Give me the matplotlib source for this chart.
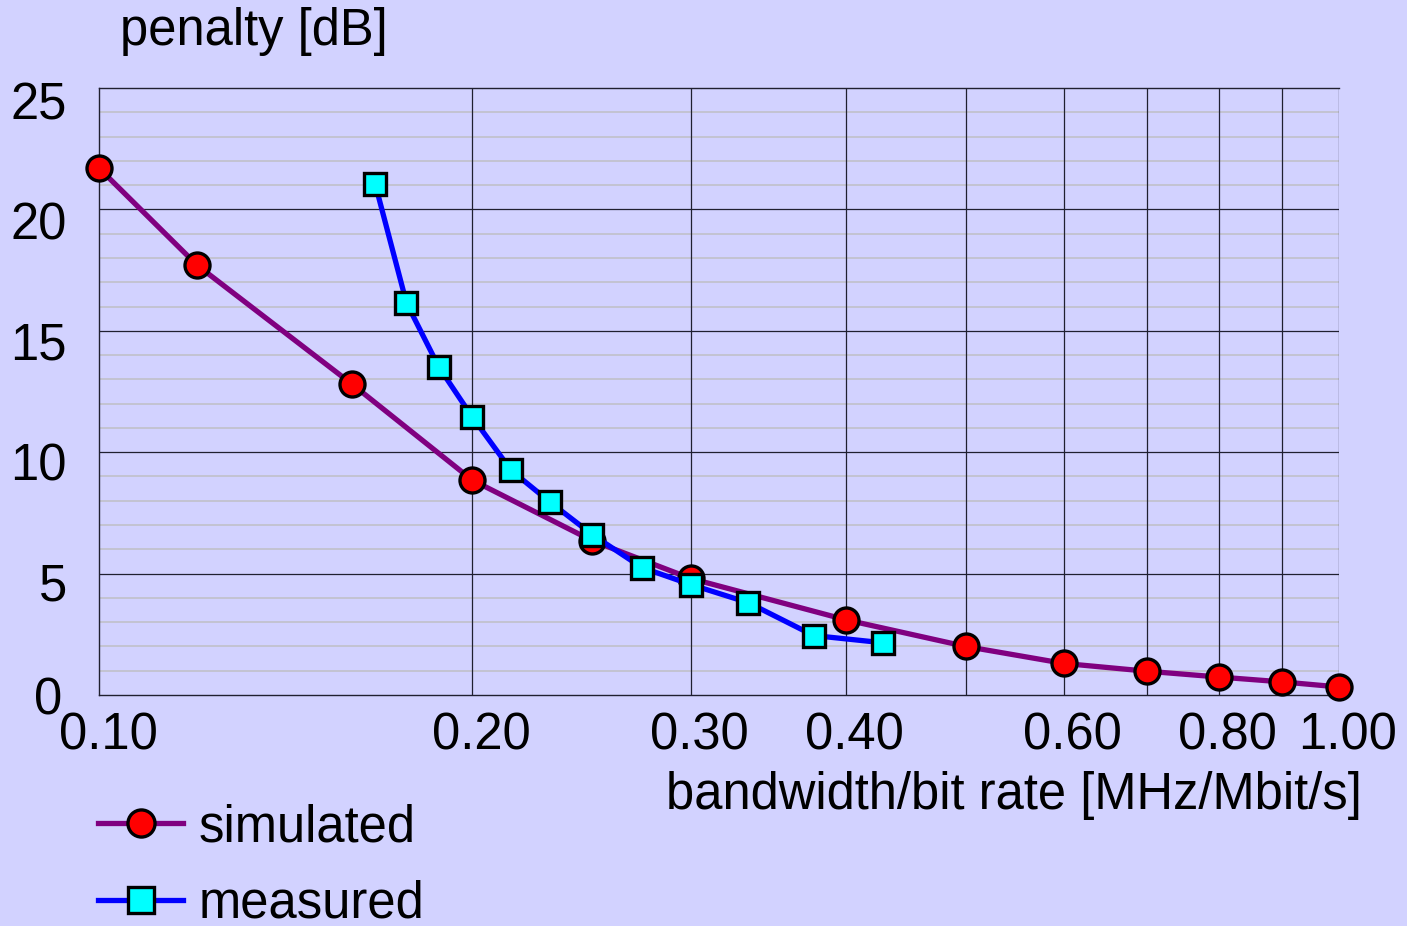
import numpy as np
import matplotlib.pyplot as plt
from matplotlib.lines import Line2D
from matplotlib.ticker import FixedLocator, NullFormatter
from matplotlib.transforms import ScaledTranslation

plt.rcParams["font.family"] = ["Liberation Sans", "DejaVu Sans"]

# data
sim_x = [0.10, 0.12, 0.16, 0.20, 0.25, 0.30, 0.40, 0.50, 0.60, 0.70, 0.80, 0.90, 1.00]
sim_y = [21.7, 17.7, 12.8, 8.85, 6.35, 4.8, 3.1, 2.0, 1.3, 0.98, 0.74, 0.54, 0.33]

meas_x = [0.167, 0.177, 0.188, 0.200, 0.215, 0.231, 0.250, 0.274, 0.300, 0.334, 0.377, 0.429]
meas_y = [21.05, 16.15, 13.5, 11.45, 9.25, 7.95, 6.6, 5.25, 4.55, 3.8, 2.45, 2.15]

xticks = [0.10, 0.20, 0.30, 0.40, 0.60, 0.80, 1.00]
xtick_labels = ["0.10", "0.20", "0.30", "0.40", "0.60", "0.80", "1.00"]
xgrid = [0.2, 0.3, 0.4, 0.5, 0.6, 0.7, 0.8, 0.9, 1.0]
yticks = [0, 5, 10, 15, 20, 25]

FS = 36.5
bg = "#D2D2FF"
fig = plt.figure(figsize=(14.07, 9.26), dpi=100, facecolor=bg)
ax = fig.add_axes([99 / 1407, 1 - 695 / 926, 1240 / 1407, 607 / 926], facecolor=bg)

ax.set_xscale("log")
ax.set_xlim(0.1, 1.0)
ax.set_ylim(0, 25)

# grid
for y in range(1, 25):
    if y % 5:
        ax.axhline(y, color="#C2C2CE", lw=1.3, zorder=1)
for y in [5, 10, 15, 20]:
    ax.axhline(y, color="#202030", lw=0.9, zorder=1)
for x in xgrid:
    ax.axvline(x, color="#202030", lw=0.9, zorder=1)

ax.plot(sim_x, sim_y, color="#800080", lw=3.8, marker="o", ms=18,
        mfc="red", mec="black", mew=2.4, zorder=3, clip_on=False)
ax.plot(meas_x, meas_y, color="blue", lw=3.8, marker="s", ms=16,
        mfc="cyan", mec="black", mew=2.4, zorder=4, clip_on=False)

ax.spines["right"].set_visible(False)
for s in ["left", "bottom", "top"]:
    ax.spines[s].set_linewidth(1.0)
    ax.spines[s].set_color("#202030")

ax.xaxis.set_major_locator(FixedLocator(xticks))
ax.set_xticklabels(xtick_labels)
ax.xaxis.set_minor_formatter(NullFormatter())
ax.set_yticks(yticks)
ax.set_yticklabels([""] + [str(v) for v in yticks[1:]])
ax.tick_params(axis="both", which="both", length=0, labelsize=FS)
ax.tick_params(axis="x", pad=12)
ax.tick_params(axis="y", pad=23)
shift = ScaledTranslation(9 / 100, 0, fig.dpi_scale_trans)
for lab in ax.get_xticklabels():
    lab.set_transform(lab.get_transform() + shift)
# y labels sit a little below their grid lines in the original
ydrop = {"5": 8, "10": 9, "15": 10, "20": 11, "25": 13}
for lab in ax.get_yticklabels():
    d = ydrop.get(lab.get_text(), 0)
    lab.set_transform(lab.get_transform() + ScaledTranslation(0, -d / 100, fig.dpi_scale_trans))
fig.text(62 / 1407, 1 - 701 / 926, "0", fontsize=FS, ha="right", va="center")

fig.text(120 / 1407, 1 - 31 / 926, "penalty [dB]", fontsize=FS, va="center", ha="left")
fig.text(1362 / 1407, 1 - 795 / 926, "bandwidth/bit rate [MHz/Mbit/s]", fontsize=FS,
         va="center", ha="right")

# legend markers are drawn larger than the plot markers
handles = [
    Line2D([], [], color="#800080", lw=3.8, marker="o", ms=19.5,
           mfc="red", mec="black", mew=2.4),
    Line2D([], [], color="blue", lw=3.8, marker="s", ms=19,
           mfc="cyan", mec="black", mew=2.4),
]
fig.legend(handles, ["simulated", "measured"], loc="upper left",
           bbox_to_anchor=(98 / 1407, 1 - 803 / 926),
           frameon=False, fontsize=FS, handlelength=1.68, handletextpad=0.3,
           labelspacing=0.54, borderpad=0, borderaxespad=0)

fig.savefig("out.png", dpi=100, facecolor=bg)
